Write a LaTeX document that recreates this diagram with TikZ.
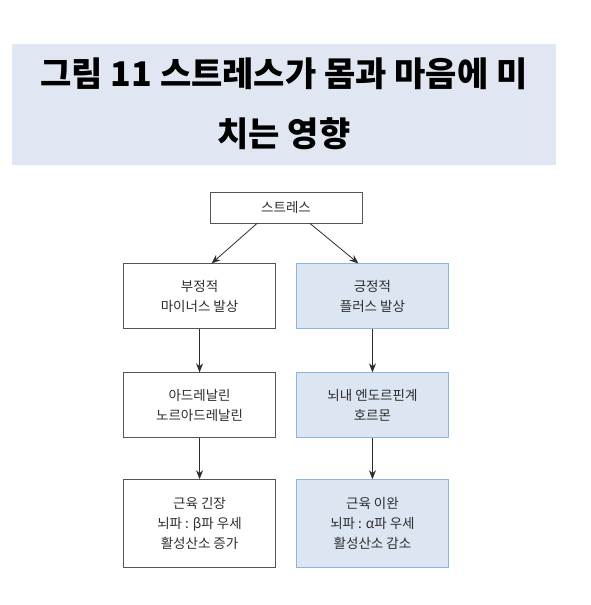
\documentclass[tikz,border=0pt]{standalone}
\usepackage{fontspec}
\setmainfont{Noto Sans CJK KR}
\usetikzlibrary{arrows.meta, positioning}
\definecolor{titleband}{RGB}{224, 231, 242}
\definecolor{posfill}{RGB}{220, 230, 242}
\definecolor{posline}{RGB}{141, 179, 226}
\definecolor{negline}{RGB}{85, 85, 85}
\definecolor{textgray}{RGB}{45, 45, 45}

\begin{document}
\begin{tikzpicture}[x=1pt, y=-1pt,
    node distance=42pt and 20pt,
    title/.style={rectangle, fill=titleband, minimum width=544pt, minimum height=121pt,
                  align=center, inner sep=0pt, font=\bfseries\fontsize{34}{60}\selectfont},
    block/.style={rectangle, draw=negline, line width=0.9pt, minimum width=152pt,
                  minimum height=65pt, align=center, inner sep=0pt, text=textgray,
                  font=\fontsize{13.5}{20}\selectfont},
    posblock/.style={block, draw=posline, fill=posfill},
    arrow/.style={-{Stealth[length=9pt, width=7pt]}, line width=0.8pt, draw=textgray}
  ]
    \useasboundingbox (0,0) rectangle (591,605);

    \node[title] (fig) at (284,104) {그림 11 스트레스가 몸과 마음에 미\\치는 영향};

    \node[block, minimum height=31pt] (stress) at (286,207.5) {스트레스};

    \node[block, below left=40pt and 10pt of stress.south] (neg1) {부정적\\마이너스 발상};
    \node[posblock, below right=40pt and 10pt of stress.south] (pos1) {긍정적\\플러스 발상};
    \node[block, below=43pt of neg1] (neg2) {아드레날린\\노르아드레날린};
    \node[posblock, below=43pt of pos1] (pos2) {뇌내 엔도르핀계\\호르몬};
    \node[block, below=41pt of neg2, minimum height=88pt] (neg3) {근육 긴장\\뇌파 : β파 우세\\활성산소 증가};
    \node[posblock, below=41pt of pos2, minimum height=88pt] (pos3) {근육 이완\\뇌파 : α파 우세\\활성산소 감소};

    \draw[arrow] ([xshift=-29pt]stress.south) -- ([xshift=12pt]neg1.north);
    \draw[arrow] ([xshift=24pt]stress.south) -- ([xshift=-14pt]pos1.north);
    \draw[arrow] (neg1) -- (neg2);
    \draw[arrow] (neg2) -- (neg3);
    \draw[arrow] (pos1) -- (pos2);
    \draw[arrow] (pos2) -- (pos3);
  \end{tikzpicture}
\end{document}
